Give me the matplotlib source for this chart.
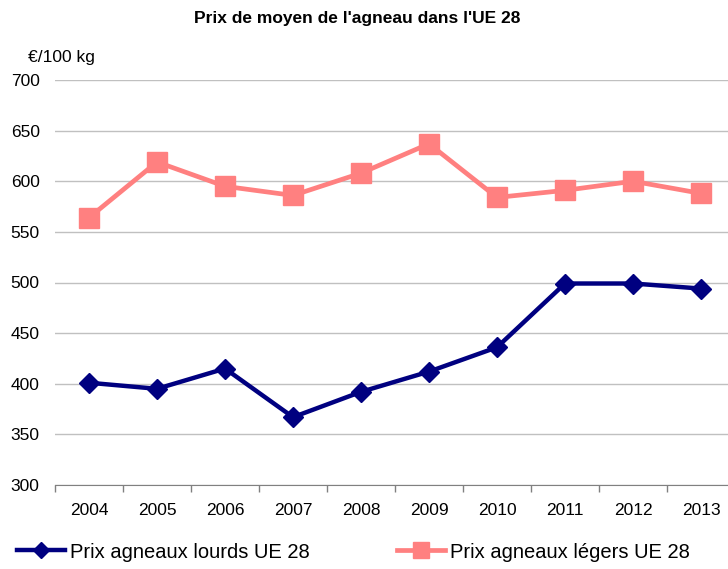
import matplotlib
matplotlib.use('Agg')
import matplotlib.pyplot as plt
import numpy as np

plt.rcParams['font.family'] = ['Liberation Sans', 'DejaVu Sans']

years = ['2004', '2005', '2006', '2007', '2008', '2009', '2010', '2011', '2012', '2013']
lourds = [401, 395, 415, 367, 392, 412, 436, 499, 499, 494]
legers = [564, 619, 595, 586, 608, 637, 584, 591, 600, 588]

fig = plt.figure(figsize=(7.28, 5.69), dpi=100)
ax = fig.add_axes([55 / 728, 84 / 569, 680 / 728, 405 / 569])

x = np.arange(len(years))
ax.plot(x, lourds, color='#000080', lw=3.2, marker='D', markersize=10,
        label='Prix agneaux lourds UE 28', zorder=3)
ax.plot(x, legers, color='#FF8080', lw=3.4, marker='s', markersize=14,
        label='Prix agneaux légers UE 28', zorder=3)

ax.set_xlim(-0.5, len(years) - 0.5)
ax.set_ylim(300, 700)
ax.set_yticks(np.arange(300, 701, 50))
ax.set_xticks(x)
ax.set_xticklabels(years)
ax.set_xticks(np.arange(-0.5, len(years), 1), minor=True)
ax.tick_params(axis='x', which='major', length=0, pad=13, labelsize=12.5)
ax.tick_params(axis='x', which='minor', length=5, color='#808080', width=1)
ax.tick_params(axis='y', length=0, pad=11, labelsize=12.5)

ax.grid(axis='y', color='#C0C0C0', lw=1)
ax.set_axisbelow(True)
for s in ['top', 'right', 'left']:
    ax.spines[s].set_visible(False)
ax.spines['bottom'].set_color('#808080')
ax.spines['bottom'].set_zorder(2)

fig.text(357 / 728, 1 - 18 / 569, "Prix de moyen de l'agneau dans l'UE 28",
         ha='center', va='center', fontsize=12.5, fontweight='bold')
fig.text(28 / 728, 1 - 57 / 569, '€/100 kg', ha='left', va='center', fontsize=12.5)

fig.legend(loc='center left', bbox_to_anchor=(17 / 728, 1 - 552 / 569), ncol=2,
           frameon=False, fontsize=14.5, handlelength=2.4, handletextpad=0.25,
           columnspacing=4.3, borderaxespad=0, borderpad=0, markerscale=0.8)

fig.savefig('out.png', dpi=100)
